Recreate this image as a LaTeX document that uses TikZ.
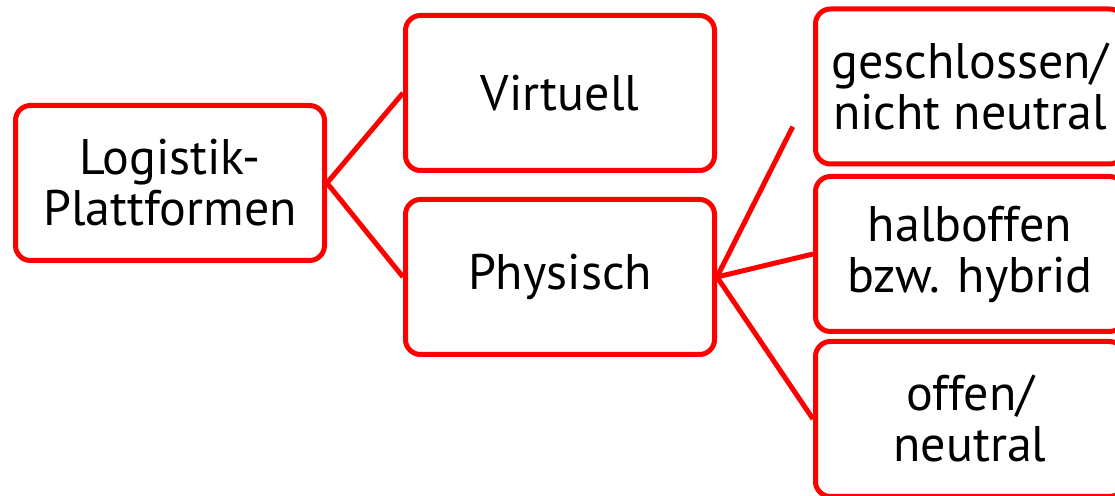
\documentclass[tikz,border=0pt]{standalone}
\usepackage{fontspec}
\setmainfont{PT Sans}
\tikzset{box/.style={draw=red, line width=2.5pt, rounded corners=7.5pt, fill=white,
  minimum width=154.5pt, minimum height=77.5pt, align=center,
  font=\fontsize{25}{25.5}\selectfont}}
\tikzset{link/.style={draw=red, line width=2.5pt}}
\begin{document}
\begin{tikzpicture}[x=0.5pt,y=-0.5pt]
        \useasboundingbox (0,0) rectangle (1115,496);
        \node[box] (LP) at (170,183) {Logistik-\\Plattformen};
        \node[box] (VI) at (560,93) {Virtuell};
        \node[box] (PH) at (560,277) {Physisch};
        \node[box] (GE) at (970,86.5) {geschlossen/\\nicht neutral};
        \node[box] (HA) at (970,254) {halboffen\\bzw. hybrid};
        \node[box] (OF) at (970,419) {offen/\\neutral};
        \draw[link] (LP.east) -- (VI.west);
        \draw[link] (LP.east) -- (PH.west);
        \draw[link, shorten >=22.5pt] (PH.east) -- (GE.west);
        \draw[link] (PH.east) -- (HA.west);
        \draw[link] (PH.east) -- (OF.west);
      \end{tikzpicture}
\end{document}
